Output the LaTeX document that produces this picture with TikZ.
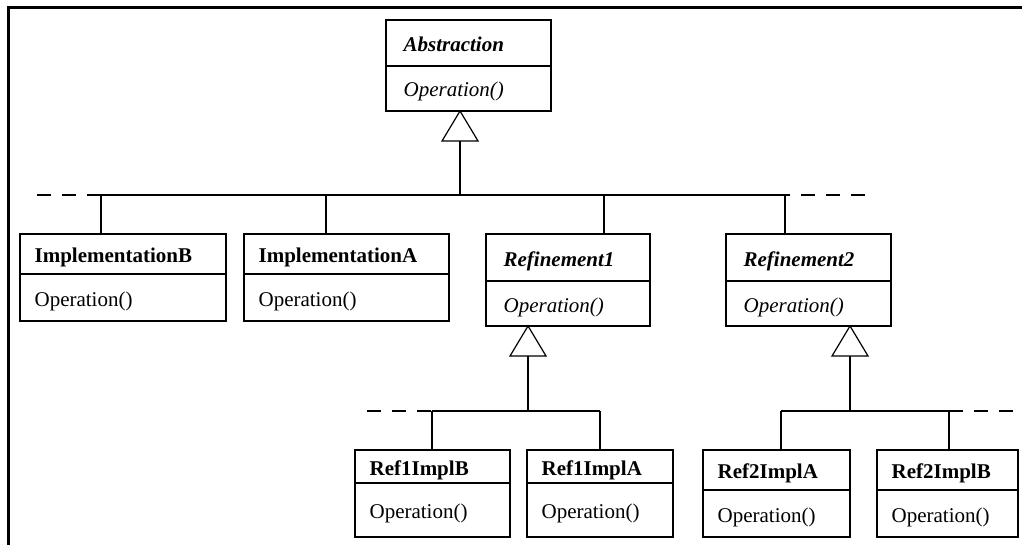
\documentclass[tikz,border=0pt]{standalone}
\usepackage{fontspec}
\setmainfont{Liberation Serif}
\usetikzlibrary{calc}

\tikzset{
  compart/.style={draw, line width=1.2pt, inner sep=0pt},
  label text/.style={anchor=west, inner sep=0pt, text height=20pt, text depth=3pt},
  concrete title/.style={label text, xshift=15pt, font=\fontsize{21}{25}\selectfont\bfseries},
  concrete op/.style={label text, xshift=15pt, font=\fontsize{21}{25}\selectfont},
  abstract title/.style={label text, xshift=18pt, font=\fontsize{21}{25}\selectfont\bfseries\itshape},
  abstract op/.style={label text, xshift=18pt, font=\fontsize{21}{25}\selectfont\itshape},
  link/.style={line width=1.2pt},
  open link/.style={line width=1.2pt, dash pattern=on 14pt off 11pt},
  gen/.style={draw, line width=1.2pt, fill=white, line join=miter},
  frame/.style={line width=3pt},
}

% #1 kind (abstract/concrete), #2 name, #3 x left, #4 x right,
% #5 y top, #6 y divider, #7 y bottom, #8 class name, #9 operation
\newcommand\umlclass[9]{%
  \node[compart, minimum width={(#4)-(#3)}, minimum height={(#6)-(#5)}]
    (#2) at ({(#3+#4)/2},{(#5+#6)/2}) {};
  \node[compart, minimum width={(#4)-(#3)}, minimum height={(#7)-(#6)}]
    (#2-op) at ({(#3+#4)/2},{(#6+#7)/2}) {};
  \node[#1 title] (#2-name) at (#2.west) {#8};
  \node[#1 op] (#2-optext) at (#2-op.west) {#9};
}

% triangle of a generalization: tip at #1, base at #2
\newcommand\gentri[2]{%
  \draw[gen] (#1) -- ($(#1)+(-18,30)$) -- ($(#1)+(18,30)$) -- cycle;
  \coordinate (#2) at ($(#1)+(0,30)$);
}

\begin{document}
\begin{tikzpicture}[x=1pt, y=-1pt]
\useasboundingbox (0,0) rectangle (1022,545);

% outer frame
\draw[frame] (1022,8) -- (8,8) -- (8,545);

% classes
\umlclass{abstract}{abs}{386}{551}{20}{66}{111}{Abstraction}{Operation()}
\umlclass{concrete}{implB}{20}{226}{234}{274}{321}{ImplementationB}{Operation()}
\umlclass{concrete}{implA}{244}{449}{234}{274}{321}{ImplementationA}{Operation()}
\umlclass{abstract}{ref1}{486}{650}{234}{281}{326}{Refinement1}{Operation()}
\umlclass{abstract}{ref2}{726}{891}{234}{281}{326}{Refinement2}{Operation()}
\umlclass{concrete}{r1b}{355}{510}{450}{483}{537}{Ref1ImplB}{Operation()}
\umlclass{concrete}{r1a}{527}{673}{450}{483}{537}{Ref1ImplA}{Operation()}
\umlclass{concrete}{r2a}{703}{850}{450}{490}{537}{Ref2ImplA}{Operation()}
\umlclass{concrete}{r2b}{877}{1018}{450}{490}{537}{Ref2ImplB}{Operation()}

% junction points
\coordinate (abs-tip) at (460,111);
\coordinate (ref1-tip) at (528,326);
\coordinate (ref2-tip) at (850,326);

\coordinate (bus0) at (460,195);
\coordinate (bus0-l) at (101,195);
\coordinate (bus0-r) at (785,195);
\coordinate (bus0-a) at (326,195);
\coordinate (bus0-1) at (604,195);
\coordinate (bus0-le) at (37,195);
\coordinate (bus0-re) at (865,195);

\coordinate (bus1) at (528,411);
\coordinate (bus1-l) at (432,411);
\coordinate (bus1-r) at (600,411);
\coordinate (bus1-le) at (367,411);

\coordinate (bus2) at (850,411);
\coordinate (bus2-l) at (781,411);
\coordinate (bus2-r) at (949,411);
\coordinate (bus2-re) at (1013,411);

% top hierarchy
\gentri{abs-tip}{abs-base}
\draw[link] (abs-base) -- (bus0);
\draw[link] (bus0-l) -- (bus0-r);
\draw[open link] (bus0-le) -- (bus0-l);
\draw[open link] (bus0-re) -- (bus0-r);
\draw[link] (bus0-l) -- (bus0-l |- implB.north);
\draw[link] (bus0-a) -- (bus0-a |- implA.north);
\draw[link] (bus0-1) -- (bus0-1 |- ref1.north);
\draw[link] (bus0-r) -- (bus0-r |- ref2.north);

% Refinement1 hierarchy
\gentri{ref1-tip}{ref1-base}
\draw[link] (ref1-base) -- (bus1);
\draw[link] (bus1-l) -- (bus1-r);
\draw[open link] (bus1-le) -- (bus1-l);
\draw[link] (bus1-l) -- (bus1-l |- r1b.north);
\draw[link] (bus1-r) -- (bus1-r |- r1a.north);

% Refinement2 hierarchy
\gentri{ref2-tip}{ref2-base}
\draw[link] (ref2-base) -- (bus2);
\draw[link] (bus2-l) -- (bus2-r);
\draw[open link] (bus2-re) -- (bus2-r);
\draw[link] (bus2-l) -- (bus2-l |- r2a.north);
\draw[link] (bus2-r) -- (bus2-r |- r2b.north);
\end{tikzpicture}
\end{document}
